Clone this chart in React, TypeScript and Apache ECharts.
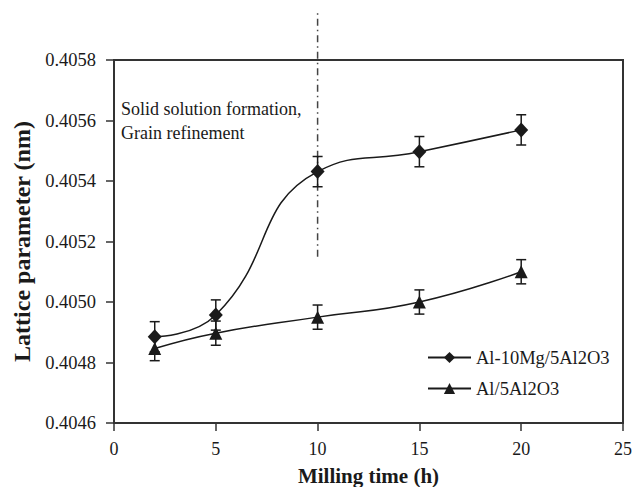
import React, { useEffect, useRef } from "react";
import * as echarts from "echarts";

const timesH = [2, 5, 10, 15, 20];
const mgValues = [0.404885, 0.404957, 0.405431, 0.405497, 0.405569];
const mgErr = [0.00005, 0.00005, 0.00005, 0.00005, 0.00005];
const alValues = [0.404846, 0.404897, 0.40495, 0.405, 0.4051];
const alErr = [0.00004, 0.00004, 0.00004, 0.00004, 0.00004];
const markerLineX = [10, 10];
const markerLineY = [0.40515, 0.405955];
const seriesNames = ["Al-10Mg/5Al2O3", "Al/5Al2O3"];
const annotationLines = ["Solid solution formation,", "Grain refinement"];

const FONT = "Liberation Serif";
const INK = "#1a1a1a";

function errorBarSeries(values: number[], errs: number[]) {
  return {
    type: "custom",
    silent: true,
    z: 3,
    data: timesH.map((t, i) => [t, values[i] - errs[i], values[i] + errs[i]]),
    renderItem: (_params: any, api: any) => {
      const x = api.value(0);
      const lo = api.coord([x, api.value(1)]);
      const hi = api.coord([x, api.value(2)]);
      const hw = 5;
      const style = { stroke: INK, lineWidth: 1.5 };
      return {
        type: "group",
        children: [
          { type: "line", shape: { x1: lo[0], y1: lo[1], x2: hi[0], y2: hi[1] }, style },
          { type: "line", shape: { x1: lo[0] - hw, y1: lo[1], x2: lo[0] + hw, y2: lo[1] }, style },
          { type: "line", shape: { x1: hi[0] - hw, y1: hi[1], x2: hi[0] + hw, y2: hi[1] }, style },
        ],
      };
    },
  };
}

export default function App() {
  const ref = useRef<HTMLDivElement>(null);
  useEffect(() => {
    document.body.style.margin = "0";
    if (!ref.current) return;
    const chart = echarts.init(ref.current, null, { renderer: "svg" });
    chart.setOption({
      animation: false,
      backgroundColor: "#ffffff",
      textStyle: { fontFamily: FONT },
      grid: {
        left: 114,
        right: 10,
        top: 60,
        bottom: 64,
        outerBoundsMode: "none",
        containLabel: false,
        show: true,
        borderColor: "#333",
        borderWidth: 2,
      },
      legend: {
        data: seriesNames,
        orient: "vertical",
        left: 427,
        top: 348,
        padding: 0,
        itemWidth: 43,
        itemHeight: 14,
        itemGap: 12,
        textStyle: { fontFamily: FONT, fontSize: 18.5, color: INK },
      },
      xAxis: {
        type: "value",
        min: 0,
        max: 25,
        interval: 5,
        name: "Milling time (h)",
        nameLocation: "middle",
        nameGap: 42,
        nameTextStyle: { fontFamily: FONT, fontSize: 21, fontWeight: "bold", color: INK },
        axisLine: { show: true, lineStyle: { color: "#333", width: 2 } },
        axisTick: { show: true, length: 8, lineStyle: { color: "#333", width: 1.5 } },
        axisLabel: { fontFamily: FONT, fontSize: 18, color: INK, margin: 17 },
        splitLine: { show: false },
      },
      yAxis: {
        type: "value",
        min: 0.4046,
        max: 0.4058,
        interval: 0.0002,
        name: "Lattice parameter (nm)",
        nameLocation: "middle",
        nameGap: 80,
        nameTextStyle: { fontFamily: FONT, fontSize: 24, fontWeight: "bold", color: INK },
        axisLine: { show: true, lineStyle: { color: "#333", width: 2 } },
        axisTick: { show: true, length: 8, lineStyle: { color: "#333", width: 1.5 } },
        axisLabel: {
          fontFamily: FONT,
          fontSize: 18.5,
          color: INK,
          margin: 18,
          formatter: (v: number) => v.toFixed(4),
        },
        splitLine: { show: false },
      },
      graphic: [
        {
          type: "text",
          left: 121,
          top: 97,
          style: {
            text: annotationLines.join("\n"),
            fontFamily: FONT,
            fontSize: 18,
            lineHeight: 24,
            fill: INK,
          },
        },
      ],
      series: [
        {
          name: "divider",
          type: "line",
          clip: false,
          symbol: "none",
          silent: true,
          data: markerLineX.map((x, i) => [x, markerLineY[i]]),
          lineStyle: { color: "#444", width: 1.5, type: [7, 4, 1.5, 4] },
          z: 1,
        },
        {
          name: seriesNames[0],
          type: "line",
          smooth: 0.5,
          symbol: "diamond",
          symbolSize: [14, 15],
          data: timesH.map((t, i) => [t, mgValues[i]]),
          lineStyle: { color: INK, width: 1.5 },
          itemStyle: { color: INK },
          z: 4,
        },
        {
          name: seriesNames[1],
          type: "line",
          smooth: 0.5,
          symbol: "triangle",
          symbolSize: [13, 13],
          data: timesH.map((t, i) => [t, alValues[i]]),
          lineStyle: { color: INK, width: 1.5 },
          itemStyle: { color: INK },
          z: 4,
        },
        errorBarSeries(mgValues, mgErr),
        errorBarSeries(alValues, alErr),
      ],
    });
    return () => chart.dispose();
  }, []);
  return <div ref={ref} style={{ width: 633, height: 487 }} />;
}
